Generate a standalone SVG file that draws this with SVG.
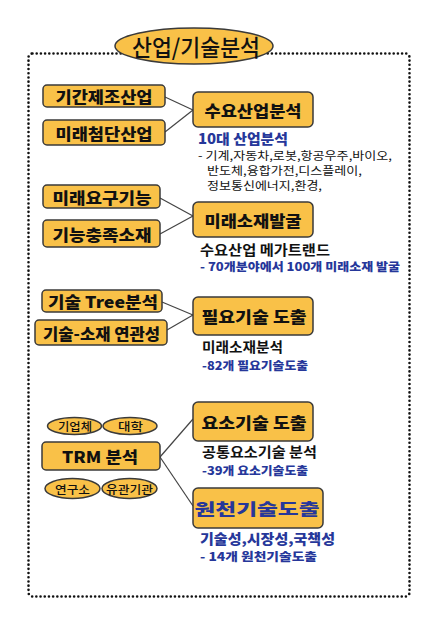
<svg xmlns="http://www.w3.org/2000/svg" width="425" height="621" viewBox="0 0 425 621">
<style>
text{font-family:"Noto Sans CJK KR","Noto Sans",sans-serif;}
.box{fill:#F9C148;stroke:#3a3a3a;stroke-width:1.5;}
.bt{font-weight:900;font-size:16px;fill:#111;text-anchor:middle;dominant-baseline:central;}
.et{font-weight:500;font-size:11.5px;fill:#111;text-anchor:middle;dominant-baseline:central;}
.k{font-weight:bold;font-size:14px;fill:#111;}
.b{font-weight:900;font-size:14px;fill:#26379A;}
.bs{font-weight:900;font-size:11.5px;fill:#26379A;}
.s{font-size:11.2px;fill:#111;}
.conn line{stroke:#444;stroke-width:1.2;}
</style>
<rect width="425" height="621" fill="#fff"/>
<rect x="28.5" y="53.5" width="381" height="543" rx="4" fill="none" stroke="#111" stroke-width="2.6" stroke-dasharray="0 4.2" stroke-linecap="round"/>
<g id="title">
<ellipse cx="194" cy="46" rx="79" ry="18" class="box"/>
<text x="196" y="46" font-size="23" font-weight="500" fill="#111" text-anchor="middle" dominant-baseline="central" textLength="128" lengthAdjust="spacingAndGlyphs">산업/기술분석</text>
</g>
<g class="conn" id="connectors">
<line x1="165" y1="97" x2="193" y2="110"/>
<line x1="165" y1="132" x2="193" y2="110"/>
<line x1="160" y1="198" x2="193" y2="216"/>
<line x1="160" y1="234" x2="193" y2="216"/>
<line x1="162" y1="302" x2="193" y2="315"/>
<line x1="167" y1="330" x2="193" y2="315"/>
<line x1="160" y1="457" x2="193" y2="419"/>
<line x1="160" y1="457" x2="193" y2="506"/>
</g>
<g id="n1"><rect x="43" y="85" width="122" height="22" rx="4" class="box"/><text x="104" y="96" class="bt" textLength="97" lengthAdjust="spacingAndGlyphs">기간제조산업</text></g>
<g id="n2"><rect x="43" y="120" width="122" height="25" rx="4" class="box"/><text x="104" y="132.5" class="bt" textLength="97" lengthAdjust="spacingAndGlyphs">미래첨단산업</text></g>
<g id="n3"><rect x="193" y="92" width="120" height="35" rx="5" class="box"/><text x="253" y="109.5" class="bt" textLength="97" lengthAdjust="spacingAndGlyphs">수요산업분석</text></g>
<text x="198" y="144" class="b" textLength="90" lengthAdjust="spacingAndGlyphs">10대 산업분석</text>
<text x="198" y="160" class="s" textLength="194" lengthAdjust="spacingAndGlyphs">- 기계,자동차,로봇,항공우주,바이오,</text>
<text x="207" y="175" class="s" textLength="155" lengthAdjust="spacingAndGlyphs">반도체,융합가전,디스플레이,</text>
<text x="207" y="190" class="s" textLength="115" lengthAdjust="spacingAndGlyphs">정보통신에너지,환경,</text>
<g id="n4"><rect x="43" y="185" width="117" height="23" rx="4" class="box"/><text x="102" y="196.5" class="bt" textLength="99" lengthAdjust="spacingAndGlyphs">미래요구기능</text></g>
<g id="n5"><rect x="43" y="220" width="117" height="27" rx="4" class="box"/><text x="102" y="233.5" class="bt" textLength="99" lengthAdjust="spacingAndGlyphs">기능충족소재</text></g>
<g id="n6"><rect x="193" y="202" width="120" height="35" rx="5" class="box"/><text x="253" y="219.5" class="bt" textLength="97" lengthAdjust="spacingAndGlyphs">미래소재발굴</text></g>
<text x="200" y="255" class="k" textLength="130" lengthAdjust="spacingAndGlyphs">수요산업 메가트랜드</text>
<text x="200" y="271" class="bs" textLength="200" lengthAdjust="spacingAndGlyphs">- 70개분야에서 100개 미래소재 발굴</text>
<g id="n7"><rect x="42" y="290" width="120" height="22" rx="4" class="box"/><text x="103" y="301" class="bt" textLength="110" lengthAdjust="spacingAndGlyphs">기술 Tree분석</text></g>
<g id="n8"><rect x="35" y="320" width="132" height="25" rx="4" class="box"/><text x="101.5" y="332.5" class="bt" font-size="15" textLength="117" lengthAdjust="spacingAndGlyphs">기술-소재 연관성</text></g>
<g id="n9"><rect x="193" y="297" width="120" height="38" rx="5" class="box"/><text x="254" y="316" class="bt" font-size="17" textLength="105" lengthAdjust="spacingAndGlyphs">필요기술 도출</text></g>
<text x="202" y="352" class="k" textLength="81" lengthAdjust="spacingAndGlyphs">미래소재분석</text>
<text x="202" y="370" class="bs" textLength="106" lengthAdjust="spacingAndGlyphs">-82개 필요기술도출</text>
<g id="e1"><ellipse cx="74.5" cy="426" rx="27" ry="8.5" class="box"/><text x="75" y="426" class="et" textLength="34" lengthAdjust="spacingAndGlyphs">기업체</text></g>
<g id="e2"><ellipse cx="130" cy="426" rx="27" ry="8.5" class="box"/><text x="130.5" y="426" class="et" textLength="25" lengthAdjust="spacingAndGlyphs">대학</text></g>
<g id="n10"><rect x="42" y="442" width="118" height="28" rx="4" class="box"/><text x="100" y="456" class="bt" font-size="17" textLength="76" lengthAdjust="spacingAndGlyphs">TRM 분석</text></g>
<g id="e3"><ellipse cx="72.5" cy="488.5" rx="27.5" ry="10" class="box"/><text x="72.5" y="488.5" class="et" textLength="35" lengthAdjust="spacingAndGlyphs">연구소</text></g>
<g id="e4"><ellipse cx="129.5" cy="488.5" rx="27.5" ry="10" class="box"/><text x="129.5" y="488.5" class="et" textLength="47" lengthAdjust="spacingAndGlyphs">유관기관</text></g>
<g id="n11"><rect x="193" y="402" width="120" height="39" rx="5" class="box"/><text x="254" y="421.5" class="bt" font-size="17" textLength="105" lengthAdjust="spacingAndGlyphs">요소기술 도출</text></g>
<text x="202" y="457" class="k" textLength="115" lengthAdjust="spacingAndGlyphs">공통요소기술 분석</text>
<text x="202" y="475" class="bs" textLength="106" lengthAdjust="spacingAndGlyphs">-39개 요소기술도출</text>
<g id="n12"><rect x="193" y="488" width="130" height="40" rx="5" class="box"/><text x="257" y="508" class="bt" font-size="22" style="fill:#26379A" textLength="125" lengthAdjust="spacingAndGlyphs">원천기술도출</text></g>
<text x="200" y="544" class="b" textLength="135" lengthAdjust="spacingAndGlyphs">기술성,시장성,국책성</text>
<text x="200" y="561" class="bs" textLength="117" lengthAdjust="spacingAndGlyphs">- 14개 원천기술도출</text>
</svg>
